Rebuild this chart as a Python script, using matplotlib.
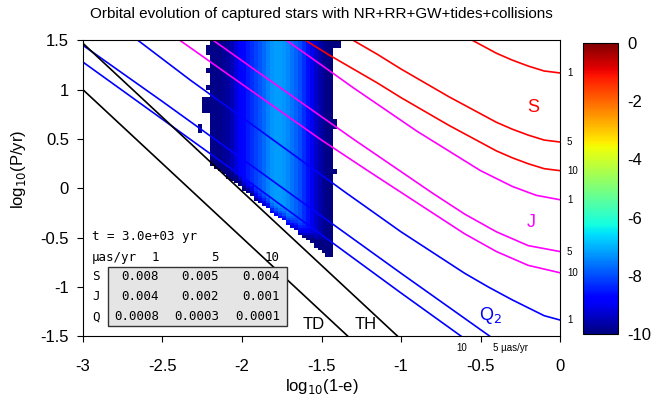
import numpy as np
import matplotlib
matplotlib.use("Agg")
import matplotlib.pyplot as plt
from matplotlib.patches import Rectangle

plt.rcParams['font.family'] = ['Liberation Sans', 'DejaVu Sans']

# ---- contour curves of astrometric signal ----
s1_x = [-0.55, -0.40, -0.30, -0.20, -0.10, 0.0]
s1_y = [1.50, 1.37, 1.30, 1.24, 1.19, 1.17]
s5_x = [-1.30, -1.15, -1.00, -0.85, -0.70, -0.55, -0.40, -0.30, -0.20, -0.10, 0.0]
s5_y = [1.50, 1.36, 1.21, 1.07, 0.93, 0.80, 0.67, 0.60, 0.54, 0.49, 0.47]
s10_x = [-1.60, -1.45, -1.30, -1.15, -1.00, -0.85, -0.70, -0.55, -0.40, -0.30, -0.20, -0.10, 0.0]
s10_y = [1.50, 1.35, 1.21, 1.07, 0.92, 0.78, 0.64, 0.51, 0.38, 0.31, 0.25, 0.20, 0.18]

j1_x = [-1.72, -1.50, -1.30, -1.10, -0.90, -0.70, -0.50, -0.30, -0.15, 0.0]
j1_y = [1.50, 1.25, 1.02, 0.80, 0.58, 0.38, 0.18, 0.02, -0.07, -0.115]
j5_x = [-2.18, -1.90, -1.60, -1.30, -1.00, -0.80, -0.60, -0.40, -0.20, 0.0]
j5_y = [1.50, 1.18, 0.84, 0.50, 0.17, -0.05, -0.26, -0.44, -0.58, -0.64]
j10_x = [-2.39, -2.10, -1.80, -1.50, -1.20, -1.00, -0.80, -0.60, -0.40, -0.20, 0.0]
j10_y = [1.50, 1.17, 0.83, 0.49, 0.17, -0.04, -0.25, -0.46, -0.64, -0.78, -0.855]

q1_x = [-2.654, -2.327, -2.00, -1.70, -1.35, -1.00, -0.80, -0.60, -0.45, -0.30, -0.20, -0.10, 0.0]
q1_y = [1.50, 1.10, 0.72, 0.37, -0.04, -0.44, -0.65, -0.86, -1.00, -1.13, -1.21, -1.29, -1.334]
q5_x = [-3.0, -2.5, -2.0, -1.5, -1.0, -0.44]
q5_y = [1.45, 0.88, 0.30, -0.28, -0.86, -1.50]
q10_x = [-3.0, -2.5, -2.0, -1.5, -1.0, -0.62]
q10_y = [1.28, 0.70, 0.12, -0.47, -1.06, -1.50]

# tidal disruption / tidal heating limits
td_x = [-3.0, -1.333]
td_y = [1.0, -1.5]
th_x = [-3.0, -1.02]
th_y = [1.47, -1.5]

# ---- density map of captured stars ----
col_edges = np.arange(-2.2, -1.35, 0.025)
row_edges = np.arange(-0.75, 1.5001, 0.025)
col_vals = [-9.9, -9.9, -9.9, -9.8, -9.7, -9.5, -9.2, -8.9, -8.7, -8.5, -8.3,
            -8.1, -7.9, -7.7, -7.5, -7.3, -7.2, -7.2, -7.3, -7.4, -7.6, -7.8,
            -8.0, -8.3, -8.6, -9.0, -9.3, -9.6, -9.8, -9.9, -10.0, -10.0, -10.0]
col_bottom = [0.225, 0.200, 0.175, 0.150, 0.100, 0.075, 0.050, 0.025, -0.025,
              -0.050, -0.075, -0.125, -0.150, -0.175, -0.200, -0.250, -0.275,
              -0.300, -0.325, -0.375, -0.400, -0.425, -0.475, -0.500, -0.525,
              -0.550, -0.600, -0.625, -0.650, -0.700, -0.700, 1.425, 1.425]
# darker cells just above the lower edge (lowest cell first)
edge_shift = [-1.6, -1.1, -0.7, -0.4, -0.2]
# rows where the right edge reaches further (top, bottom y, last column index)
right_ext = [(1.500, 1.425, 32), (0.700, 0.600, 31), (0.200, 0.150, 31),
             (-0.200, -0.250, 30)]
# small blocks sticking out on the left (x0, x1, y0, y1)
left_blocks = [(-2.225, -2.20, 1.35, 1.45), (-2.225, -2.20, 1.17, 1.22),
               (-2.225, -2.20, 1.00, 1.05), (-2.25, -2.20, 0.76, 0.93),
               (-2.275, -2.25, 0.56, 0.65)]

ncol = len(col_edges) - 1
nrow = len(row_edges) - 1
xc = 0.5 * (col_edges[:-1] + col_edges[1:])
yc = 0.5 * (row_edges[:-1] + row_edges[1:])
grid = np.ma.masked_all((nrow, ncol))
for i in range(ncol):
    k = 0
    for j in range(nrow):
        if yc[j] > col_bottom[i] and i <= 30:
            v = col_vals[i]
            if k < len(edge_shift):
                v = max(v + edge_shift[k], -10.0)
            grid[j, i] = v
            k += 1
for top, bot, last in right_ext:
    for j in range(nrow):
        if bot < yc[j] < top:
            for i in range(31, last + 1):
                grid[j, i] = col_vals[i]

fig = plt.figure(figsize=(6.55, 4.0), dpi=100)
ax = fig.add_axes([0.1267, 0.159, 0.7283, 0.740])
cax = fig.add_axes([0.890, 0.165, 0.0534, 0.7275])

mesh = ax.pcolormesh(col_edges, row_edges, grid, cmap='jet', vmin=-10, vmax=0)
for x0, x1, y0, y1 in left_blocks:
    ax.add_patch(Rectangle((x0, y0), x1 - x0, y1 - y0, color=plt.cm.jet(0.0),
                           lw=0))

lw = 1.2
for xs, ys in [(s1_x, s1_y), (s5_x, s5_y), (s10_x, s10_y)]:
    ax.plot(xs, ys, color='#ff0000', lw=lw)
for xs, ys in [(j1_x, j1_y), (j5_x, j5_y), (j10_x, j10_y)]:
    ax.plot(xs, ys, color='#ff00ff', lw=lw)
for xs, ys in [(q1_x, q1_y), (q5_x, q5_y), (q10_x, q10_y)]:
    ax.plot(xs, ys, color='#0000ff', lw=lw)
ax.plot(td_x, td_y, color='black', lw=lw)
ax.plot(th_x, th_y, color='black', lw=lw)

ax.set_xlim(-3, 0)
ax.set_ylim(-1.5, 1.5)
ax.set_xticks([-3, -2.5, -2, -1.5, -1, -0.5, 0])
ax.set_xticklabels(['-3', '-2.5', '-2', '-1.5', '-1', '-0.5', '0'])
ax.set_yticks([-1.5, -1, -0.5, 0, 0.5, 1, 1.5])
ax.set_yticklabels(['-1.5', '-1', '-0.5', '0', '0.5', '1', '1.5'])
ax.tick_params(direction='out', length=4, labelsize=12, top=False, right=False)
ax.tick_params(axis='x', pad=12)
ax.tick_params(axis='y', pad=6)
ax.set_xlabel('log$_{10}$(1-e)', fontsize=12, va='center')
ax.set_ylabel('log$_{10}$(P/yr)', fontsize=12, va='center')
ax.xaxis.set_label_coords(0.5, -0.17)
ax.yaxis.set_label_coords(-0.136, 0.566)
ax.set_title('Orbital evolution of captured stars with NR+RR+GW+tides+collisions',
             fontsize=11, pad=16)

# curve labels
ax.text(-0.17, 0.82, 'S', color='#ff0000', fontsize=13, ha='center', va='center')
ax.text(-0.18, -0.35, 'J', color='#ff00ff', fontsize=13, ha='center', va='center')
ax.text(-0.44, -1.29, 'Q$_2$', color='#0000ff', fontsize=13, ha='center', va='center')
ax.text(-1.55, -1.38, 'TD', color='black', fontsize=12, ha='center', va='center')
ax.text(-1.22, -1.38, 'TH', color='black', fontsize=12, ha='center', va='center')

for yend, lab in [(s1_y[-1], '1'), (s5_y[-1], '5'), (s10_y[-1], '10'),
                  (j1_y[-1], '1'), (j5_y[-1], '5'), (j10_y[-1], '10'),
                  (q1_y[-1], '1')]:
    ax.annotate(lab, (0, yend), xytext=(5, 0), textcoords='offset points',
                fontsize=7, va='center', ha='left', annotation_clip=False)
ax.annotate('10', (q10_x[-1], -1.5), xytext=(0, -8), textcoords='offset points',
            fontsize=7, va='center', ha='center', annotation_clip=False)
ax.annotate('5 \u00b5as/yr', (q5_x[-1], -1.5), xytext=(2, -8),
            textcoords='offset points', fontsize=7, va='center', ha='left',
            annotation_clip=False)

# table of minimum times
mono = 'DejaVu Sans Mono'
ax.add_patch(Rectangle((-2.843, -1.393), 1.126, 0.598, facecolor='#e5e5e5',
                       edgecolor='#333333', lw=1.0, zorder=3))
ax.text(-2.943, -0.49, 't = 3.0e+03 yr', family=mono, fontsize=9, va='center')
ax.text(-2.943, -0.70, '\u00b5as/yr', family=mono, fontsize=9, va='center')
col_right = [-2.522, -2.145, -1.761]
for xr, h in zip(col_right, ['1', '5', '10']):
    ax.text(xr, -0.70, h, family=mono, fontsize=9, va='center', ha='right')
table = [('S', ['0.008', '0.005', '0.004'], -0.897),
         ('J', ['0.004', '0.002', '0.001'], -1.10),
         ('Q', ['0.0008', '0.0003', '0.0001'], -1.30)]
for name, vals, yy in table:
    ax.text(-2.943, yy, name, family=mono, fontsize=9, va='center')
    for xr, v in zip(col_right, vals):
        ax.text(xr, yy, v, family=mono, fontsize=9, va='center', ha='right',
                zorder=4)

cb = fig.colorbar(mesh, cax=cax, ticks=[0, -2, -4, -6, -8, -10])
cb.ax.tick_params(length=0, labelsize=12, pad=7)
cb.ax.set_yticklabels(['0', '-2', '-4', '-6', '-8', '-10'])

fig.savefig('out.png', dpi=100)
